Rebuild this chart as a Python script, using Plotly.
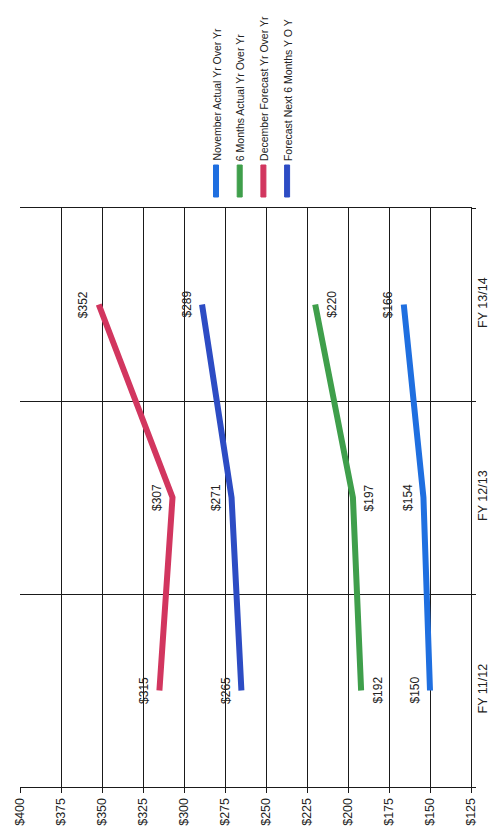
import plotly.graph_objects as go

# Fiscal years and yearly values per series
categories = ["FY 11/12", "FY 12/13", "FY 13/14"]
series_names = [
    "November Actual Yr Over Yr",
    "6 Months Actual Yr Over Yr",
    "December Forecast Yr Over Yr",
    "Forecast Next 6 Months Y O Y",
]
november_actual = [150, 154, 166]
six_months_actual = [192, 197, 220]
december_forecast = [315, 307, 352]
forecast_next_six = [265, 271, 289]
value_ticks = list(range(125, 401, 25))
value_tick_labels = [f"${v}" for v in value_ticks]

series_values = [november_actual, six_months_actual, december_forecast, forecast_next_six]
colors = ["#1f6fe0", "#3f9f4b", "#d2365f", "#2d4cc4"]
label_side = [-1, 1, -1, -1]  # which side of the line the value labels sit on

W, H = 490, 834
ML, MR, MT, MB = 20, 19, 208, 47
PW, PH = W - ML - MR, H - MT - MB

FONT = "Liberation Sans"
INK = "#222222"
GRID = "#1a1a1a"


def px_to_paper(xp, yp):
    return (xp - ML) / PW, (H - MB - yp) / PH


fig = go.Figure()

for name, vals, col in zip(series_names, series_values, colors):
    fig.add_trace(go.Scatter(
        x=vals, y=categories, mode="lines", name=name,
        line=dict(color=col, width=6), showlegend=False,
    ))

annotations = []
for vals, side in zip(series_values, label_side):
    for cat, v in zip(categories, vals):
        annotations.append(dict(
            x=v, y=cat, xref="x", yref="y", text=f"${v}",
            textangle=-90, showarrow=False, xshift=side * 16,
            font=dict(family=FONT, size=12, color=INK),
        ))

# Hand-built vertical legend above the plot
shapes = []
for i, (name, col) in enumerate(zip(series_names, colors)):
    xc = 216 + i * 23.7
    x0, y0 = px_to_paper(xc - 2.5, 197)
    x1, y1 = px_to_paper(xc + 2.5, 165)
    shapes.append(dict(
        type="rect", xref="paper", yref="paper",
        x0=x0, x1=x1, y0=y0, y1=y1,
        fillcolor=col, line=dict(color=col, width=1),
    ))
    tx, ty = px_to_paper(xc + 1, 163)
    annotations.append(dict(
        x=tx, y=ty, xref="paper", yref="paper", text=name,
        textangle=-90, showarrow=False, xanchor="center", yanchor="bottom",
        font=dict(family=FONT, size=10.5, color=INK),
    ))

fig.update_layout(
    width=W, height=H,
    margin=dict(l=ML, r=MR, t=MT, b=MB, pad=0),
    paper_bgcolor="white", plot_bgcolor="white",
    font=dict(family=FONT, size=12, color=INK),
    annotations=annotations, shapes=shapes,
    xaxis=dict(
        range=[400, 125], tickmode="array",
        tickvals=value_ticks, ticktext=value_tick_labels,
        tickangle=-90, ticks="outside", ticklen=5, tickcolor=GRID,
        showgrid=True, gridcolor=GRID, gridwidth=1,
        showline=True, linecolor=GRID, linewidth=1, mirror=True,
        zeroline=False, automargin=False,
        tickfont=dict(family=FONT, size=12.5, color=INK),
    ),
    yaxis=dict(
        type="category", categoryorder="array", categoryarray=categories,
        range=[-0.5, 2.5], tickson="boundaries", side="right",
        tickangle=-90, ticks="outside", ticklen=4, tickcolor=GRID,
        showgrid=True, gridcolor=GRID, gridwidth=1,
        showline=True, linecolor=GRID, linewidth=1,
        zeroline=False, automargin=False,
        tickfont=dict(family=FONT, size=12.5, color=INK),
    ),
)

fig.write_html("out.html")
